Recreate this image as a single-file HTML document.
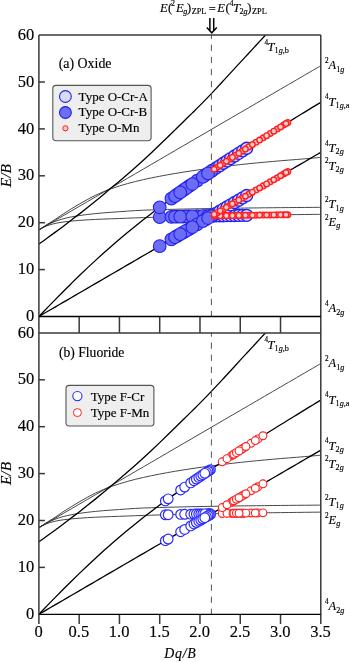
<!DOCTYPE html><html><head><meta charset="utf-8"><style>html,body{margin:0;padding:0;background:#fff;}svg{display:block;will-change:transform;}text{font-family:"Liberation Serif",serif;fill:#000;stroke:#000;stroke-width:0.15px;}</style></head><body>
<svg width="350" height="662" viewBox="0 0 350 662">
<rect width="350" height="662" fill="#fff"/>
<clipPath id="cp0"><rect x="38.90" y="35.10" width="281.89" height="281.40"/></clipPath>
<clipPath id="cp1"><rect x="38.90" y="332.90" width="281.89" height="281.40"/></clipPath>
<g clip-path="url(#cp0)">
<path d="M38.90 229.88 C40.24 229.19 44.27 226.86 46.95 225.79 C49.64 224.72 52.32 224.09 55.01 223.46 C57.69 222.84 60.38 222.43 63.06 222.04 C65.75 221.65 68.43 221.37 71.12 221.10 C73.80 220.83 76.49 220.63 79.17 220.42 C81.85 220.22 84.54 220.03 87.22 219.87 C89.91 219.70 92.59 219.56 95.28 219.43 C97.96 219.30 100.65 219.18 103.33 219.07 C106.02 218.96 108.70 218.86 111.39 218.77 C114.07 218.68 116.76 218.61 119.44 218.51 C122.12 218.42 124.81 218.29 127.49 218.19 C130.18 218.08 132.86 217.99 135.55 217.89 C138.23 217.80 140.92 217.71 143.60 217.62 C146.29 217.53 148.97 217.45 151.66 217.37 C154.34 217.29 157.03 217.21 159.71 217.13 C162.39 217.06 165.08 216.99 167.76 216.91 C170.45 216.84 173.13 216.78 175.82 216.71 C178.50 216.64 181.19 216.58 183.87 216.52 C186.56 216.45 189.24 216.39 191.93 216.33 C194.61 216.27 197.30 216.22 199.98 216.16 C202.66 216.10 205.35 216.05 208.03 216.00 C210.72 215.94 213.40 215.89 216.09 215.84 C218.77 215.79 221.46 215.74 224.14 215.69 C226.83 215.64 229.51 215.60 232.20 215.55 C234.88 215.50 237.57 215.46 240.25 215.41 C242.93 215.37 245.62 215.33 248.30 215.28 C250.99 215.24 253.67 215.20 256.36 215.16 C259.04 215.12 261.73 215.08 264.41 215.04 C267.10 215.00 269.78 214.96 272.47 214.93 C275.15 214.89 277.84 214.85 280.52 214.82 C283.20 214.78 285.89 214.74 288.57 214.71 C291.26 214.68 293.94 214.64 296.63 214.61 C299.31 214.57 302.00 214.54 304.68 214.51 C307.37 214.48 310.05 214.45 312.74 214.41 C315.42 214.38 319.45 214.34 320.79 214.32" stroke="#282828" stroke-width="0.85" fill="none"/>
<path d="M38.90 229.88 C40.24 229.08 44.27 226.48 46.95 225.07 C49.64 223.67 52.32 222.48 55.01 221.44 C57.69 220.40 60.38 219.56 63.06 218.82 C65.75 218.07 68.43 217.52 71.12 216.98 C73.80 216.44 76.49 216.00 79.17 215.59 C81.85 215.17 84.54 214.83 87.22 214.50 C89.91 214.17 92.59 213.89 95.28 213.62 C97.96 213.35 100.65 213.11 103.33 212.88 C106.02 212.66 108.70 212.45 111.39 212.26 C114.07 212.06 116.76 211.90 119.44 211.71 C122.12 211.53 124.81 211.32 127.49 211.13 C130.18 210.95 132.86 210.76 135.55 210.60 C138.23 210.44 140.92 210.30 143.60 210.19 C146.29 210.08 148.97 210.00 151.66 209.92 C154.34 209.83 157.03 209.75 159.71 209.67 C162.39 209.59 165.08 209.52 167.76 209.45 C170.45 209.38 173.13 209.31 175.82 209.25 C178.50 209.18 181.19 209.12 183.87 209.06 C186.56 209.00 189.24 208.95 191.93 208.89 C194.61 208.84 197.30 208.79 199.98 208.74 C202.66 208.69 205.35 208.64 208.03 208.59 C210.72 208.55 213.40 208.50 216.09 208.46 C218.77 208.42 221.46 208.38 224.14 208.34 C226.83 208.30 229.51 208.26 232.20 208.22 C234.88 208.18 237.57 208.15 240.25 208.11 C242.93 208.08 245.62 208.04 248.30 208.01 C250.99 207.98 253.67 207.95 256.36 207.91 C259.04 207.88 261.73 207.85 264.41 207.82 C267.10 207.80 269.78 207.77 272.47 207.74 C275.15 207.71 277.84 207.69 280.52 207.66 C283.20 207.63 285.89 207.61 288.57 207.58 C291.26 207.56 293.94 207.54 296.63 207.51 C299.31 207.49 302.00 207.47 304.68 207.45 C307.37 207.42 310.05 207.40 312.74 207.38 C315.42 207.36 319.45 207.33 320.79 207.32" stroke="#282828" stroke-width="0.85" fill="none"/>
<path d="M38.90 229.88 C40.24 228.99 44.27 226.26 46.95 224.54 C49.64 222.81 52.32 221.27 55.01 219.53 C57.69 217.79 60.38 215.85 63.06 214.09 C65.75 212.33 68.43 210.62 71.12 208.97 C73.80 207.31 76.49 205.75 79.17 204.17 C81.85 202.60 84.54 201.01 87.22 199.54 C89.91 198.08 92.59 196.68 95.28 195.39 C97.96 194.10 100.65 192.90 103.33 191.78 C106.02 190.67 108.70 189.64 111.39 188.67 C114.07 187.70 116.76 186.81 119.44 185.97 C122.12 185.12 124.81 184.34 127.49 183.60 C130.18 182.85 132.86 182.15 135.55 181.48 C138.23 180.81 140.92 180.18 143.60 179.58 C146.29 178.97 148.97 178.41 151.66 177.85 C154.34 177.30 157.03 176.77 159.71 176.25 C162.39 175.74 165.08 175.24 167.76 174.76 C170.45 174.28 173.13 173.82 175.82 173.36 C178.50 172.91 181.19 172.48 183.87 172.05 C186.56 171.62 189.24 171.21 191.93 170.81 C194.61 170.41 197.30 170.02 199.98 169.64 C202.66 169.26 205.35 168.89 208.03 168.53 C210.72 168.17 213.40 167.82 216.09 167.47 C218.77 167.13 221.46 166.80 224.14 166.47 C226.83 166.15 229.51 165.83 232.20 165.52 C234.88 165.21 237.57 164.91 240.25 164.62 C242.93 164.32 245.62 164.03 248.30 163.76 C250.99 163.48 253.67 163.22 256.36 162.96 C259.04 162.70 261.73 162.45 264.41 162.21 C267.10 161.96 269.78 161.72 272.47 161.48 C275.15 161.25 277.84 161.02 280.52 160.79 C283.20 160.57 285.89 160.35 288.57 160.13 C291.26 159.92 293.94 159.72 296.63 159.50 C299.31 159.29 302.00 159.06 304.68 158.82 C307.37 158.59 310.05 158.35 312.74 158.12 C315.42 157.88 319.45 157.55 320.79 157.43" stroke="#282828" stroke-width="0.85" fill="none"/>
<path d="M38.90 229.88 C40.24 229.09 44.27 226.75 46.95 225.19 C49.64 223.62 52.32 222.06 55.01 220.50 C57.69 218.93 60.38 217.37 63.06 215.81 C65.75 214.24 68.43 212.68 71.12 211.12 C73.80 209.55 76.49 207.99 79.17 206.43 C81.85 204.86 84.54 203.30 87.22 201.74 C89.91 200.17 92.59 198.61 95.28 197.05 C97.96 195.48 100.65 193.92 103.33 192.36 C106.02 190.79 108.70 189.23 111.39 187.67 C114.07 186.10 116.76 184.54 119.44 182.98 C122.12 181.41 124.81 179.85 127.49 178.29 C130.18 176.72 132.86 175.16 135.55 173.60 C138.23 172.03 140.92 170.47 143.60 168.91 C146.29 167.34 148.97 165.78 151.66 164.22 C154.34 162.65 157.03 161.09 159.71 159.53 C162.39 157.96 165.08 156.40 167.76 154.84 C170.45 153.27 173.13 151.71 175.82 150.15 C178.50 148.58 181.19 147.02 183.87 145.46 C186.56 143.89 189.24 142.33 191.93 140.77 C194.61 139.20 197.30 137.64 199.98 136.08 C202.66 134.51 205.35 132.95 208.03 131.39 C210.72 129.82 213.40 128.26 216.09 126.70 C218.77 125.13 221.46 123.57 224.14 122.01 C226.83 120.44 229.51 118.88 232.20 117.32 C234.88 115.75 237.57 114.19 240.25 112.63 C242.93 111.06 245.62 109.50 248.30 107.94 C250.99 106.37 253.67 104.81 256.36 103.25 C259.04 101.68 261.73 100.12 264.41 98.56 C267.10 96.99 269.78 95.43 272.47 93.87 C275.15 92.30 277.84 90.74 280.52 89.18 C283.20 87.61 285.89 86.05 288.57 84.49 C291.26 82.92 293.94 81.36 296.63 79.80 C299.31 78.23 302.00 76.67 304.68 75.11 C307.37 73.54 310.05 71.98 312.74 70.42 C315.42 68.85 319.45 66.51 320.79 65.73" stroke="#282828" stroke-width="0.85" fill="none"/>
<path d="M38.90 316.50 C40.24 315.72 44.27 313.37 46.95 311.81 C49.64 310.25 52.32 308.68 55.01 307.12 C57.69 305.56 60.38 303.99 63.06 302.43 C65.75 300.87 68.43 299.30 71.12 297.74 C73.80 296.18 76.49 294.61 79.17 293.05 C81.85 291.49 84.54 289.92 87.22 288.36 C89.91 286.80 92.59 285.23 95.28 283.67 C97.96 282.11 100.65 280.54 103.33 278.98 C106.02 277.42 108.70 275.85 111.39 274.29 C114.07 272.73 116.76 271.16 119.44 269.60 C122.12 268.04 124.81 266.47 127.49 264.91 C130.18 263.35 132.86 261.78 135.55 260.22 C138.23 258.66 140.92 257.09 143.60 255.53 C146.29 253.97 148.97 252.40 151.66 250.84 C154.34 249.28 157.03 247.71 159.71 246.15 C162.39 244.59 165.08 243.02 167.76 241.46 C170.45 239.90 173.13 238.33 175.82 236.77 C178.50 235.21 181.19 233.64 183.87 232.08 C186.56 230.52 189.24 228.95 191.93 227.39 C194.61 225.83 197.30 224.26 199.98 222.70 C202.66 221.14 205.35 219.57 208.03 218.01 C210.72 216.45 213.40 214.88 216.09 213.32 C218.77 211.76 221.46 210.19 224.14 208.63 C226.83 207.07 229.51 205.50 232.20 203.94 C234.88 202.38 237.57 200.81 240.25 199.25 C242.93 197.69 245.62 196.12 248.30 194.56 C250.99 193.00 253.67 191.43 256.36 189.87 C259.04 188.31 261.73 186.74 264.41 185.18 C267.10 183.62 269.78 182.05 272.47 180.49 C275.15 178.93 277.84 177.36 280.52 175.80 C283.20 174.24 285.89 172.67 288.57 171.11 C291.26 169.55 293.94 167.98 296.63 166.42 C299.31 164.86 302.00 163.29 304.68 161.73 C307.37 160.17 310.05 158.60 312.74 157.04 C315.42 155.48 319.45 153.13 320.79 152.35" stroke="#000" stroke-width="1.3" fill="none"/>
<path d="M38.90 316.50 C40.24 315.10 44.27 310.89 46.95 308.11 C49.64 305.33 52.32 302.57 55.01 299.83 C57.69 297.09 60.38 294.38 63.06 291.68 C65.75 288.99 68.43 286.31 71.12 283.67 C73.80 281.03 76.49 278.40 79.17 275.81 C81.85 273.22 84.54 270.66 87.22 268.12 C89.91 265.59 92.59 263.08 95.28 260.61 C97.96 258.14 100.65 255.69 103.33 253.28 C106.02 250.87 108.70 248.49 111.39 246.15 C114.07 243.80 116.76 241.49 119.44 239.21 C122.12 236.93 124.81 234.69 127.49 232.47 C130.18 230.25 132.86 228.07 135.55 225.91 C138.23 223.76 140.92 221.63 143.60 219.53 C146.29 217.43 148.97 215.37 151.66 213.32 C154.34 211.27 157.03 209.26 159.71 207.26 C162.39 205.27 165.08 203.29 167.76 201.34 C170.45 199.39 173.13 197.46 175.82 195.55 C178.50 193.64 181.19 191.75 183.87 189.87 C186.56 187.99 189.24 186.14 191.93 184.29 C194.61 182.44 197.30 180.62 199.98 178.80 C202.66 176.98 205.35 175.18 208.03 173.39 C210.72 171.59 213.40 169.81 216.09 168.04 C218.77 166.27 221.46 164.51 224.14 162.76 C226.83 161.01 229.51 159.27 232.20 157.53 C234.88 155.80 237.57 154.07 240.25 152.35 C242.93 150.63 245.62 148.92 248.30 147.21 C250.99 145.50 253.67 143.80 256.36 142.11 C259.04 140.42 261.73 138.73 264.41 137.04 C267.10 135.36 269.78 133.68 272.47 132.00 C275.15 130.33 277.84 128.66 280.52 126.99 C283.20 125.33 285.89 123.66 288.57 122.01 C291.26 120.35 293.94 118.69 296.63 117.04 C299.31 115.39 302.00 113.74 304.68 112.09 C307.37 110.45 310.05 108.80 312.74 107.16 C315.42 105.52 319.45 103.07 320.79 102.25" stroke="#000" stroke-width="1.3" fill="none"/>
<path d="M38.90 244.04 C40.24 243.08 44.27 240.22 46.95 238.28 C49.64 236.34 52.32 234.38 55.01 232.40 C57.69 230.42 60.38 228.43 63.06 226.40 C65.75 224.38 68.43 222.31 71.12 220.26 C73.80 218.21 76.49 216.19 79.17 214.12 C81.85 212.04 84.54 209.94 87.22 207.81 C89.91 205.67 92.59 203.51 95.28 201.32 C97.96 199.12 100.65 196.89 103.33 194.64 C106.02 192.40 108.70 190.10 111.39 187.85 C114.07 185.61 116.76 183.45 119.44 181.19 C122.12 178.93 124.81 176.64 127.49 174.30 C130.18 171.97 132.86 169.60 135.55 167.20 C138.23 164.80 140.92 162.37 143.60 159.91 C146.29 157.45 148.97 154.95 151.66 152.43 C154.34 149.91 157.03 147.37 159.71 144.80 C162.39 142.23 165.08 139.64 167.76 137.03 C170.45 134.41 173.13 131.76 175.82 129.13 C178.50 126.49 181.19 123.86 183.87 121.23 C186.56 118.60 189.24 115.98 191.93 113.34 C194.61 110.69 197.30 108.06 199.98 105.36 C202.66 102.65 205.35 99.90 208.03 97.10 C210.72 94.31 213.40 91.46 216.09 88.59 C218.77 85.73 221.46 82.80 224.14 79.90 C226.83 76.99 229.51 74.07 232.20 71.15 C234.88 68.22 237.57 65.26 240.25 62.35 C242.93 59.44 245.62 56.58 248.30 53.69 C250.99 50.79 253.67 47.89 256.36 44.99 C259.04 42.08 261.73 39.17 264.41 36.26 C267.10 33.34 269.78 30.46 272.47 27.49 C275.15 24.52 277.84 21.46 280.52 18.43 C283.20 15.41 285.89 12.38 288.57 9.35 C291.26 6.32 293.94 3.29 296.63 0.25 C299.31 -2.79 302.00 -5.83 304.68 -8.88 C307.37 -11.92 310.05 -14.97 312.74 -18.02 C315.42 -21.07 319.45 -25.65 320.79 -27.17" stroke="#000" stroke-width="1.3" fill="none"/>
</g>
<g clip-path="url(#cp1)">
<path d="M38.90 527.68 C40.24 526.99 44.27 524.66 46.95 523.59 C49.64 522.52 52.32 521.89 55.01 521.26 C57.69 520.64 60.38 520.23 63.06 519.84 C65.75 519.45 68.43 519.17 71.12 518.90 C73.80 518.63 76.49 518.43 79.17 518.22 C81.85 518.02 84.54 517.83 87.22 517.67 C89.91 517.50 92.59 517.36 95.28 517.23 C97.96 517.10 100.65 516.98 103.33 516.87 C106.02 516.76 108.70 516.66 111.39 516.57 C114.07 516.48 116.76 516.41 119.44 516.31 C122.12 516.22 124.81 516.09 127.49 515.99 C130.18 515.88 132.86 515.79 135.55 515.69 C138.23 515.60 140.92 515.51 143.60 515.42 C146.29 515.33 148.97 515.25 151.66 515.17 C154.34 515.09 157.03 515.01 159.71 514.93 C162.39 514.86 165.08 514.79 167.76 514.71 C170.45 514.64 173.13 514.58 175.82 514.51 C178.50 514.44 181.19 514.38 183.87 514.32 C186.56 514.25 189.24 514.19 191.93 514.13 C194.61 514.07 197.30 514.02 199.98 513.96 C202.66 513.90 205.35 513.85 208.03 513.80 C210.72 513.74 213.40 513.69 216.09 513.64 C218.77 513.59 221.46 513.54 224.14 513.49 C226.83 513.44 229.51 513.40 232.20 513.35 C234.88 513.30 237.57 513.26 240.25 513.21 C242.93 513.17 245.62 513.13 248.30 513.08 C250.99 513.04 253.67 513.00 256.36 512.96 C259.04 512.92 261.73 512.88 264.41 512.84 C267.10 512.80 269.78 512.76 272.47 512.73 C275.15 512.69 277.84 512.65 280.52 512.62 C283.20 512.58 285.89 512.54 288.57 512.51 C291.26 512.48 293.94 512.44 296.63 512.41 C299.31 512.37 302.00 512.34 304.68 512.31 C307.37 512.28 310.05 512.25 312.74 512.21 C315.42 512.18 319.45 512.14 320.79 512.12" stroke="#282828" stroke-width="0.85" fill="none"/>
<path d="M38.90 527.68 C40.24 526.88 44.27 524.28 46.95 522.87 C49.64 521.47 52.32 520.28 55.01 519.24 C57.69 518.20 60.38 517.36 63.06 516.62 C65.75 515.87 68.43 515.32 71.12 514.78 C73.80 514.24 76.49 513.80 79.17 513.39 C81.85 512.97 84.54 512.63 87.22 512.30 C89.91 511.97 92.59 511.69 95.28 511.42 C97.96 511.15 100.65 510.91 103.33 510.68 C106.02 510.46 108.70 510.25 111.39 510.06 C114.07 509.86 116.76 509.70 119.44 509.51 C122.12 509.33 124.81 509.12 127.49 508.93 C130.18 508.75 132.86 508.56 135.55 508.40 C138.23 508.24 140.92 508.10 143.60 507.99 C146.29 507.88 148.97 507.80 151.66 507.72 C154.34 507.63 157.03 507.55 159.71 507.47 C162.39 507.39 165.08 507.32 167.76 507.25 C170.45 507.18 173.13 507.11 175.82 507.05 C178.50 506.98 181.19 506.92 183.87 506.86 C186.56 506.80 189.24 506.75 191.93 506.69 C194.61 506.64 197.30 506.59 199.98 506.54 C202.66 506.49 205.35 506.44 208.03 506.39 C210.72 506.35 213.40 506.30 216.09 506.26 C218.77 506.22 221.46 506.18 224.14 506.14 C226.83 506.10 229.51 506.06 232.20 506.02 C234.88 505.98 237.57 505.95 240.25 505.91 C242.93 505.88 245.62 505.84 248.30 505.81 C250.99 505.78 253.67 505.75 256.36 505.71 C259.04 505.68 261.73 505.65 264.41 505.62 C267.10 505.60 269.78 505.57 272.47 505.54 C275.15 505.51 277.84 505.49 280.52 505.46 C283.20 505.43 285.89 505.41 288.57 505.38 C291.26 505.36 293.94 505.34 296.63 505.31 C299.31 505.29 302.00 505.27 304.68 505.25 C307.37 505.22 310.05 505.20 312.74 505.18 C315.42 505.16 319.45 505.13 320.79 505.12" stroke="#282828" stroke-width="0.85" fill="none"/>
<path d="M38.90 527.68 C40.24 526.79 44.27 524.06 46.95 522.34 C49.64 520.61 52.32 519.07 55.01 517.33 C57.69 515.59 60.38 513.65 63.06 511.89 C65.75 510.13 68.43 508.42 71.12 506.77 C73.80 505.11 76.49 503.55 79.17 501.97 C81.85 500.40 84.54 498.81 87.22 497.34 C89.91 495.88 92.59 494.48 95.28 493.19 C97.96 491.90 100.65 490.70 103.33 489.58 C106.02 488.47 108.70 487.44 111.39 486.47 C114.07 485.50 116.76 484.61 119.44 483.77 C122.12 482.92 124.81 482.14 127.49 481.40 C130.18 480.65 132.86 479.95 135.55 479.28 C138.23 478.61 140.92 477.98 143.60 477.38 C146.29 476.77 148.97 476.21 151.66 475.65 C154.34 475.10 157.03 474.57 159.71 474.05 C162.39 473.54 165.08 473.04 167.76 472.56 C170.45 472.08 173.13 471.62 175.82 471.16 C178.50 470.71 181.19 470.28 183.87 469.85 C186.56 469.42 189.24 469.01 191.93 468.61 C194.61 468.21 197.30 467.82 199.98 467.44 C202.66 467.06 205.35 466.69 208.03 466.33 C210.72 465.97 213.40 465.62 216.09 465.27 C218.77 464.93 221.46 464.60 224.14 464.27 C226.83 463.95 229.51 463.63 232.20 463.32 C234.88 463.01 237.57 462.71 240.25 462.42 C242.93 462.12 245.62 461.83 248.30 461.56 C250.99 461.28 253.67 461.02 256.36 460.76 C259.04 460.50 261.73 460.25 264.41 460.01 C267.10 459.76 269.78 459.52 272.47 459.28 C275.15 459.05 277.84 458.82 280.52 458.59 C283.20 458.37 285.89 458.15 288.57 457.93 C291.26 457.72 293.94 457.52 296.63 457.30 C299.31 457.09 302.00 456.86 304.68 456.62 C307.37 456.39 310.05 456.15 312.74 455.92 C315.42 455.68 319.45 455.35 320.79 455.23" stroke="#282828" stroke-width="0.85" fill="none"/>
<path d="M38.90 527.68 C40.24 526.89 44.27 524.55 46.95 522.99 C49.64 521.42 52.32 519.86 55.01 518.30 C57.69 516.73 60.38 515.17 63.06 513.61 C65.75 512.04 68.43 510.48 71.12 508.92 C73.80 507.35 76.49 505.79 79.17 504.23 C81.85 502.66 84.54 501.10 87.22 499.54 C89.91 497.97 92.59 496.41 95.28 494.85 C97.96 493.28 100.65 491.72 103.33 490.16 C106.02 488.59 108.70 487.03 111.39 485.47 C114.07 483.90 116.76 482.34 119.44 480.78 C122.12 479.21 124.81 477.65 127.49 476.09 C130.18 474.52 132.86 472.96 135.55 471.40 C138.23 469.83 140.92 468.27 143.60 466.71 C146.29 465.14 148.97 463.58 151.66 462.02 C154.34 460.45 157.03 458.89 159.71 457.33 C162.39 455.76 165.08 454.20 167.76 452.64 C170.45 451.07 173.13 449.51 175.82 447.95 C178.50 446.38 181.19 444.82 183.87 443.26 C186.56 441.69 189.24 440.13 191.93 438.57 C194.61 437.00 197.30 435.44 199.98 433.88 C202.66 432.31 205.35 430.75 208.03 429.19 C210.72 427.62 213.40 426.06 216.09 424.50 C218.77 422.93 221.46 421.37 224.14 419.81 C226.83 418.24 229.51 416.68 232.20 415.12 C234.88 413.55 237.57 411.99 240.25 410.43 C242.93 408.86 245.62 407.30 248.30 405.74 C250.99 404.17 253.67 402.61 256.36 401.05 C259.04 399.48 261.73 397.92 264.41 396.36 C267.10 394.79 269.78 393.23 272.47 391.67 C275.15 390.10 277.84 388.54 280.52 386.98 C283.20 385.41 285.89 383.85 288.57 382.29 C291.26 380.72 293.94 379.16 296.63 377.60 C299.31 376.03 302.00 374.47 304.68 372.91 C307.37 371.34 310.05 369.78 312.74 368.22 C315.42 366.65 319.45 364.31 320.79 363.53" stroke="#282828" stroke-width="0.85" fill="none"/>
<path d="M38.90 614.30 C40.24 613.52 44.27 611.17 46.95 609.61 C49.64 608.05 52.32 606.48 55.01 604.92 C57.69 603.36 60.38 601.79 63.06 600.23 C65.75 598.67 68.43 597.10 71.12 595.54 C73.80 593.98 76.49 592.41 79.17 590.85 C81.85 589.29 84.54 587.72 87.22 586.16 C89.91 584.60 92.59 583.03 95.28 581.47 C97.96 579.91 100.65 578.34 103.33 576.78 C106.02 575.22 108.70 573.65 111.39 572.09 C114.07 570.53 116.76 568.96 119.44 567.40 C122.12 565.84 124.81 564.27 127.49 562.71 C130.18 561.15 132.86 559.58 135.55 558.02 C138.23 556.46 140.92 554.89 143.60 553.33 C146.29 551.77 148.97 550.20 151.66 548.64 C154.34 547.08 157.03 545.51 159.71 543.95 C162.39 542.39 165.08 540.82 167.76 539.26 C170.45 537.70 173.13 536.13 175.82 534.57 C178.50 533.01 181.19 531.44 183.87 529.88 C186.56 528.32 189.24 526.75 191.93 525.19 C194.61 523.63 197.30 522.06 199.98 520.50 C202.66 518.94 205.35 517.37 208.03 515.81 C210.72 514.25 213.40 512.68 216.09 511.12 C218.77 509.56 221.46 507.99 224.14 506.43 C226.83 504.87 229.51 503.30 232.20 501.74 C234.88 500.18 237.57 498.61 240.25 497.05 C242.93 495.49 245.62 493.92 248.30 492.36 C250.99 490.80 253.67 489.23 256.36 487.67 C259.04 486.11 261.73 484.54 264.41 482.98 C267.10 481.42 269.78 479.85 272.47 478.29 C275.15 476.73 277.84 475.16 280.52 473.60 C283.20 472.04 285.89 470.47 288.57 468.91 C291.26 467.35 293.94 465.78 296.63 464.22 C299.31 462.66 302.00 461.09 304.68 459.53 C307.37 457.97 310.05 456.40 312.74 454.84 C315.42 453.28 319.45 450.93 320.79 450.15" stroke="#000" stroke-width="1.3" fill="none"/>
<path d="M38.90 614.30 C40.24 612.90 44.27 608.69 46.95 605.91 C49.64 603.13 52.32 600.37 55.01 597.63 C57.69 594.89 60.38 592.18 63.06 589.48 C65.75 586.79 68.43 584.11 71.12 581.47 C73.80 578.83 76.49 576.20 79.17 573.61 C81.85 571.02 84.54 568.46 87.22 565.92 C89.91 563.39 92.59 560.88 95.28 558.41 C97.96 555.94 100.65 553.49 103.33 551.08 C106.02 548.67 108.70 546.29 111.39 543.95 C114.07 541.60 116.76 539.29 119.44 537.01 C122.12 534.73 124.81 532.49 127.49 530.27 C130.18 528.05 132.86 525.87 135.55 523.71 C138.23 521.56 140.92 519.43 143.60 517.33 C146.29 515.23 148.97 513.17 151.66 511.12 C154.34 509.07 157.03 507.06 159.71 505.06 C162.39 503.07 165.08 501.09 167.76 499.14 C170.45 497.19 173.13 495.26 175.82 493.35 C178.50 491.44 181.19 489.55 183.87 487.67 C186.56 485.79 189.24 483.94 191.93 482.09 C194.61 480.24 197.30 478.42 199.98 476.60 C202.66 474.78 205.35 472.98 208.03 471.19 C210.72 469.39 213.40 467.61 216.09 465.84 C218.77 464.07 221.46 462.31 224.14 460.56 C226.83 458.81 229.51 457.07 232.20 455.33 C234.88 453.60 237.57 451.87 240.25 450.15 C242.93 448.43 245.62 446.72 248.30 445.01 C250.99 443.30 253.67 441.60 256.36 439.91 C259.04 438.22 261.73 436.53 264.41 434.84 C267.10 433.16 269.78 431.48 272.47 429.80 C275.15 428.13 277.84 426.46 280.52 424.79 C283.20 423.13 285.89 421.46 288.57 419.81 C291.26 418.15 293.94 416.49 296.63 414.84 C299.31 413.19 302.00 411.54 304.68 409.89 C307.37 408.25 310.05 406.60 312.74 404.96 C315.42 403.32 319.45 400.87 320.79 400.05" stroke="#000" stroke-width="1.3" fill="none"/>
<path d="M38.90 541.84 C40.24 540.88 44.27 538.02 46.95 536.08 C49.64 534.14 52.32 532.18 55.01 530.20 C57.69 528.22 60.38 526.23 63.06 524.20 C65.75 522.18 68.43 520.11 71.12 518.06 C73.80 516.01 76.49 513.99 79.17 511.92 C81.85 509.84 84.54 507.74 87.22 505.61 C89.91 503.47 92.59 501.31 95.28 499.12 C97.96 496.92 100.65 494.69 103.33 492.44 C106.02 490.20 108.70 487.90 111.39 485.65 C114.07 483.41 116.76 481.25 119.44 478.99 C122.12 476.73 124.81 474.44 127.49 472.10 C130.18 469.77 132.86 467.40 135.55 465.00 C138.23 462.60 140.92 460.17 143.60 457.71 C146.29 455.25 148.97 452.75 151.66 450.23 C154.34 447.71 157.03 445.17 159.71 442.60 C162.39 440.03 165.08 437.44 167.76 434.83 C170.45 432.21 173.13 429.56 175.82 426.93 C178.50 424.29 181.19 421.66 183.87 419.03 C186.56 416.40 189.24 413.78 191.93 411.14 C194.61 408.49 197.30 405.86 199.98 403.16 C202.66 400.45 205.35 397.70 208.03 394.90 C210.72 392.11 213.40 389.26 216.09 386.39 C218.77 383.53 221.46 380.60 224.14 377.70 C226.83 374.79 229.51 371.87 232.20 368.95 C234.88 366.02 237.57 363.06 240.25 360.15 C242.93 357.24 245.62 354.38 248.30 351.49 C250.99 348.59 253.67 345.69 256.36 342.79 C259.04 339.88 261.73 336.97 264.41 334.06 C267.10 331.14 269.78 328.26 272.47 325.29 C275.15 322.32 277.84 319.26 280.52 316.23 C283.20 313.21 285.89 310.18 288.57 307.15 C291.26 304.12 293.94 301.09 296.63 298.05 C299.31 295.01 302.00 291.97 304.68 288.92 C307.37 285.88 310.05 282.83 312.74 279.78 C315.42 276.73 319.45 272.15 320.79 270.63" stroke="#000" stroke-width="1.3" fill="none"/>
</g>
<line x1="211.40" y1="35" x2="211.40" y2="316.5" stroke="#555" stroke-width="1" stroke-dasharray="6.3 5.8" stroke-dashoffset="2.4"/>
<line x1="211.40" y1="332.8" x2="211.40" y2="614.3" stroke="#555" stroke-width="1" stroke-dasharray="6.3 5.8" stroke-dashoffset="2.4"/>
<g fill="#d4d4fa" stroke="#2222f2" stroke-width="1.35"><circle cx="212.46" cy="215.91" r="6.00"/><circle cx="216.09" cy="215.84" r="6.00"/><circle cx="219.71" cy="215.77" r="6.00"/><circle cx="223.34" cy="215.71" r="6.00"/><circle cx="226.96" cy="215.64" r="6.00"/><circle cx="230.59" cy="215.58" r="6.00"/><circle cx="234.61" cy="215.51" r="6.00"/><circle cx="238.64" cy="215.44" r="6.00"/><circle cx="242.67" cy="215.38" r="6.00"/><circle cx="246.69" cy="215.31" r="6.00"/><circle cx="212.46" cy="215.43" r="6.00"/><circle cx="216.09" cy="213.32" r="6.00"/><circle cx="219.71" cy="211.21" r="6.00"/><circle cx="223.34" cy="209.10" r="6.00"/><circle cx="226.96" cy="206.99" r="6.00"/><circle cx="230.59" cy="204.88" r="6.00"/><circle cx="234.61" cy="202.53" r="6.00"/><circle cx="238.64" cy="200.19" r="6.00"/><circle cx="242.67" cy="197.84" r="6.00"/><circle cx="246.69" cy="195.50" r="6.00"/><circle cx="212.46" cy="170.44" r="6.00"/><circle cx="216.09" cy="168.04" r="6.00"/><circle cx="219.71" cy="165.66" r="6.00"/><circle cx="223.34" cy="163.29" r="6.00"/><circle cx="226.96" cy="160.92" r="6.00"/><circle cx="230.59" cy="158.57" r="6.00"/><circle cx="234.61" cy="155.97" r="6.00"/><circle cx="238.64" cy="153.38" r="6.00"/><circle cx="242.67" cy="150.80" r="6.00"/><circle cx="246.69" cy="148.24" r="6.00"/></g>
<g fill="#6c6cf4" stroke="#2020f4" stroke-width="1.05"><circle cx="159.71" cy="217.13" r="6.35"/><circle cx="171.39" cy="216.82" r="6.35"/><circle cx="177.43" cy="216.67" r="6.35"/><circle cx="183.07" cy="216.54" r="6.35"/><circle cx="189.11" cy="216.40" r="6.35"/><circle cx="205.62" cy="216.05" r="6.35"/><circle cx="175.01" cy="216.73" r="6.35"/><circle cx="185.89" cy="216.47" r="6.35"/><circle cx="197.16" cy="216.22" r="6.35"/><circle cx="202.80" cy="216.10" r="6.35"/><circle cx="211.26" cy="215.93" r="6.35"/><circle cx="180.25" cy="216.60" r="6.35"/><circle cx="192.33" cy="216.32" r="6.35"/><circle cx="208.03" cy="216.00" r="6.35"/><circle cx="159.71" cy="246.15" r="6.35"/><circle cx="171.39" cy="239.35" r="6.35"/><circle cx="177.43" cy="235.83" r="6.35"/><circle cx="183.07" cy="232.55" r="6.35"/><circle cx="189.11" cy="229.03" r="6.35"/><circle cx="205.62" cy="219.42" r="6.35"/><circle cx="175.01" cy="237.24" r="6.35"/><circle cx="185.89" cy="230.91" r="6.35"/><circle cx="197.16" cy="224.34" r="6.35"/><circle cx="202.80" cy="221.06" r="6.35"/><circle cx="211.26" cy="216.13" r="6.35"/><circle cx="180.25" cy="234.19" r="6.35"/><circle cx="192.33" cy="227.16" r="6.35"/><circle cx="208.03" cy="218.01" r="6.35"/><circle cx="159.71" cy="207.26" r="6.35"/><circle cx="171.39" cy="198.72" r="6.35"/><circle cx="177.43" cy="194.41" r="6.35"/><circle cx="183.07" cy="190.43" r="6.35"/><circle cx="189.11" cy="186.23" r="6.35"/><circle cx="205.62" cy="175.00" r="6.35"/><circle cx="175.01" cy="196.12" r="6.35"/><circle cx="185.89" cy="188.47" r="6.35"/><circle cx="197.16" cy="180.71" r="6.35"/><circle cx="202.80" cy="176.90" r="6.35"/><circle cx="211.26" cy="171.24" r="6.35"/><circle cx="180.25" cy="192.41" r="6.35"/><circle cx="192.33" cy="184.01" r="6.35"/><circle cx="208.03" cy="173.39" r="6.35"/></g>
<g fill="#ffd0d0" stroke="#ff2020" stroke-width="1.45"><circle cx="217.20" cy="215.82" r="2.80"/><circle cx="223.20" cy="215.71" r="2.80"/><circle cx="229.40" cy="215.60" r="2.80"/><circle cx="235.60" cy="215.49" r="2.80"/><circle cx="242.00" cy="215.39" r="2.80"/><circle cx="248.80" cy="215.28" r="2.80"/><circle cx="256.00" cy="215.17" r="2.80"/><circle cx="263.20" cy="215.06" r="2.80"/><circle cx="270.20" cy="214.96" r="2.80"/><circle cx="277.20" cy="214.86" r="2.80"/><circle cx="283.60" cy="214.77" r="2.80"/><circle cx="287.80" cy="214.72" r="2.80"/><circle cx="214.20" cy="215.88" r="2.80"/><circle cx="220.20" cy="215.76" r="2.80"/><circle cx="226.40" cy="215.65" r="2.80"/><circle cx="232.40" cy="215.55" r="2.80"/><circle cx="238.80" cy="215.44" r="2.80"/><circle cx="245.40" cy="215.33" r="2.80"/><circle cx="252.40" cy="215.22" r="2.80"/><circle cx="259.60" cy="215.11" r="2.80"/><circle cx="266.60" cy="215.01" r="2.80"/><circle cx="273.80" cy="214.91" r="2.80"/><circle cx="280.60" cy="214.81" r="2.80"/><circle cx="286.00" cy="214.74" r="2.80"/><circle cx="217.20" cy="212.67" r="2.80"/><circle cx="223.20" cy="209.18" r="2.80"/><circle cx="229.40" cy="205.57" r="2.80"/><circle cx="235.60" cy="201.96" r="2.80"/><circle cx="242.00" cy="198.23" r="2.80"/><circle cx="248.80" cy="194.27" r="2.80"/><circle cx="256.00" cy="190.08" r="2.80"/><circle cx="263.20" cy="185.89" r="2.80"/><circle cx="270.20" cy="181.81" r="2.80"/><circle cx="277.20" cy="177.73" r="2.80"/><circle cx="283.60" cy="174.01" r="2.80"/><circle cx="287.80" cy="171.56" r="2.80"/><circle cx="214.20" cy="214.42" r="2.80"/><circle cx="220.20" cy="210.93" r="2.80"/><circle cx="226.40" cy="207.32" r="2.80"/><circle cx="232.40" cy="203.82" r="2.80"/><circle cx="238.80" cy="200.09" r="2.80"/><circle cx="245.40" cy="196.25" r="2.80"/><circle cx="252.40" cy="192.17" r="2.80"/><circle cx="259.60" cy="187.98" r="2.80"/><circle cx="266.60" cy="183.91" r="2.80"/><circle cx="273.80" cy="179.71" r="2.80"/><circle cx="280.60" cy="175.75" r="2.80"/><circle cx="286.00" cy="172.61" r="2.80"/><circle cx="217.20" cy="167.31" r="2.80"/><circle cx="223.20" cy="163.37" r="2.80"/><circle cx="229.40" cy="159.34" r="2.80"/><circle cx="235.60" cy="155.34" r="2.80"/><circle cx="242.00" cy="151.23" r="2.80"/><circle cx="248.80" cy="146.90" r="2.80"/><circle cx="256.00" cy="142.34" r="2.80"/><circle cx="263.20" cy="137.80" r="2.80"/><circle cx="270.20" cy="133.42" r="2.80"/><circle cx="277.20" cy="129.06" r="2.80"/><circle cx="283.60" cy="125.08" r="2.80"/><circle cx="287.80" cy="122.48" r="2.80"/><circle cx="214.20" cy="169.29" r="2.80"/><circle cx="220.20" cy="165.34" r="2.80"/><circle cx="226.40" cy="161.29" r="2.80"/><circle cx="232.40" cy="157.40" r="2.80"/><circle cx="238.80" cy="153.28" r="2.80"/><circle cx="245.40" cy="149.06" r="2.80"/><circle cx="252.40" cy="144.61" r="2.80"/><circle cx="259.60" cy="140.07" r="2.80"/><circle cx="266.60" cy="135.67" r="2.80"/><circle cx="273.80" cy="131.17" r="2.80"/><circle cx="280.60" cy="126.94" r="2.80"/><circle cx="286.00" cy="123.60" r="2.80"/></g>
<g fill="#fff" stroke="#2a2aff" stroke-width="1.20"><circle cx="165.35" cy="514.78" r="4.85"/><circle cx="168.17" cy="514.70" r="4.85"/><circle cx="180.65" cy="514.39" r="4.85"/><circle cx="184.68" cy="514.30" r="4.85"/><circle cx="190.72" cy="514.16" r="4.85"/><circle cx="193.94" cy="514.09" r="4.85"/><circle cx="210.45" cy="513.75" r="4.85"/><circle cx="196.36" cy="514.04" r="4.85"/><circle cx="209.24" cy="513.77" r="4.85"/><circle cx="198.77" cy="513.99" r="4.85"/><circle cx="208.03" cy="513.80" r="4.85"/><circle cx="200.79" cy="513.94" r="4.85"/><circle cx="206.42" cy="513.83" r="4.85"/><circle cx="202.80" cy="513.90" r="4.85"/><circle cx="204.81" cy="513.86" r="4.85"/><circle cx="165.35" cy="540.67" r="4.85"/><circle cx="168.17" cy="539.03" r="4.85"/><circle cx="180.65" cy="531.76" r="4.85"/><circle cx="184.68" cy="529.41" r="4.85"/><circle cx="190.72" cy="525.89" r="4.85"/><circle cx="193.94" cy="524.02" r="4.85"/><circle cx="210.45" cy="514.40" r="4.85"/><circle cx="196.36" cy="522.61" r="4.85"/><circle cx="209.24" cy="515.11" r="4.85"/><circle cx="198.77" cy="521.20" r="4.85"/><circle cx="208.03" cy="515.81" r="4.85"/><circle cx="200.79" cy="520.03" r="4.85"/><circle cx="206.42" cy="516.75" r="4.85"/><circle cx="202.80" cy="518.86" r="4.85"/><circle cx="204.81" cy="517.69" r="4.85"/><circle cx="165.35" cy="500.90" r="4.85"/><circle cx="168.17" cy="498.85" r="4.85"/><circle cx="180.65" cy="489.93" r="4.85"/><circle cx="184.68" cy="487.11" r="4.85"/><circle cx="190.72" cy="482.92" r="4.85"/><circle cx="193.94" cy="480.71" r="4.85"/><circle cx="210.45" cy="469.58" r="4.85"/><circle cx="196.36" cy="479.06" r="4.85"/><circle cx="209.24" cy="470.38" r="4.85"/><circle cx="198.77" cy="477.42" r="4.85"/><circle cx="208.03" cy="471.19" r="4.85"/><circle cx="200.79" cy="476.05" r="4.85"/><circle cx="206.42" cy="472.26" r="4.85"/><circle cx="202.80" cy="474.70" r="4.85"/><circle cx="204.81" cy="473.34" r="4.85"/></g>
<g fill="#fff" stroke="#ff2424" stroke-width="1.15"><circle cx="222.21" cy="513.53" r="3.90"/><circle cx="231.31" cy="513.37" r="3.90"/><circle cx="235.42" cy="513.30" r="3.90"/><circle cx="239.93" cy="513.22" r="3.90"/><circle cx="244.12" cy="513.15" r="3.90"/><circle cx="250.96" cy="513.04" r="3.90"/><circle cx="257.89" cy="512.94" r="3.90"/><circle cx="227.04" cy="513.44" r="3.90"/><circle cx="233.00" cy="513.34" r="3.90"/><circle cx="238.08" cy="513.25" r="3.90"/><circle cx="242.67" cy="513.18" r="3.90"/><circle cx="255.31" cy="512.98" r="3.90"/><circle cx="233.89" cy="513.32" r="3.90"/><circle cx="236.38" cy="513.28" r="3.90"/><circle cx="241.62" cy="513.19" r="3.90"/><circle cx="245.89" cy="513.12" r="3.90"/><circle cx="262.96" cy="512.86" r="3.90"/><circle cx="239.04" cy="513.23" r="3.90"/><circle cx="222.21" cy="507.56" r="3.90"/><circle cx="231.31" cy="502.26" r="3.90"/><circle cx="235.42" cy="499.86" r="3.90"/><circle cx="239.93" cy="497.24" r="3.90"/><circle cx="244.12" cy="494.80" r="3.90"/><circle cx="250.96" cy="490.81" r="3.90"/><circle cx="257.89" cy="486.78" r="3.90"/><circle cx="227.04" cy="504.74" r="3.90"/><circle cx="233.00" cy="501.27" r="3.90"/><circle cx="238.08" cy="498.32" r="3.90"/><circle cx="242.67" cy="495.64" r="3.90"/><circle cx="255.31" cy="488.28" r="3.90"/><circle cx="233.89" cy="500.76" r="3.90"/><circle cx="236.38" cy="499.30" r="3.90"/><circle cx="241.62" cy="496.25" r="3.90"/><circle cx="245.89" cy="493.77" r="3.90"/><circle cx="262.96" cy="483.82" r="3.90"/><circle cx="239.04" cy="497.75" r="3.90"/><circle cx="222.21" cy="461.82" r="3.90"/><circle cx="231.31" cy="455.90" r="3.90"/><circle cx="235.42" cy="453.25" r="3.90"/><circle cx="239.93" cy="450.36" r="3.90"/><circle cx="244.12" cy="447.68" r="3.90"/><circle cx="250.96" cy="443.32" r="3.90"/><circle cx="257.89" cy="438.94" r="3.90"/><circle cx="227.04" cy="458.67" r="3.90"/><circle cx="233.00" cy="454.81" r="3.90"/><circle cx="238.08" cy="451.54" r="3.90"/><circle cx="242.67" cy="448.60" r="3.90"/><circle cx="255.31" cy="440.57" r="3.90"/><circle cx="233.89" cy="454.24" r="3.90"/><circle cx="236.38" cy="452.63" r="3.90"/><circle cx="241.62" cy="449.27" r="3.90"/><circle cx="245.89" cy="446.55" r="3.90"/><circle cx="262.96" cy="435.75" r="3.90"/><circle cx="239.04" cy="450.92" r="3.90"/></g>
<g stroke="#383838" stroke-width="1.50" fill="none">
<line x1="38.90" y1="35.0" x2="38.90" y2="624"/>
<line x1="320.79" y1="35.0" x2="320.79" y2="624"/>
<line x1="38.90" y1="35.0" x2="320.79" y2="35.0"/>
<line x1="38.90" y1="332.90" x2="320.79" y2="332.90"/>
<line x1="79.17" y1="316.5" x2="79.17" y2="332.90"/>
<line x1="79.17" y1="614.30" x2="79.17" y2="624"/>
<line x1="119.44" y1="316.5" x2="119.44" y2="332.90"/>
<line x1="119.44" y1="614.30" x2="119.44" y2="624"/>
<line x1="159.71" y1="316.5" x2="159.71" y2="332.90"/>
<line x1="159.71" y1="614.30" x2="159.71" y2="624"/>
<line x1="199.98" y1="316.5" x2="199.98" y2="332.90"/>
<line x1="199.98" y1="614.30" x2="199.98" y2="624"/>
<line x1="240.25" y1="316.5" x2="240.25" y2="332.90"/>
<line x1="240.25" y1="614.30" x2="240.25" y2="624"/>
<line x1="280.52" y1="316.5" x2="280.52" y2="332.90"/>
<line x1="280.52" y1="614.30" x2="280.52" y2="624"/>
<line x1="38.90" y1="269.60" x2="44.90" y2="269.60"/>
<line x1="38.90" y1="222.70" x2="44.90" y2="222.70"/>
<line x1="38.90" y1="175.80" x2="44.90" y2="175.80"/>
<line x1="38.90" y1="128.90" x2="44.90" y2="128.90"/>
<line x1="38.90" y1="82.00" x2="44.90" y2="82.00"/>
<line x1="38.90" y1="567.40" x2="44.90" y2="567.40"/>
<line x1="38.90" y1="520.50" x2="44.90" y2="520.50"/>
<line x1="38.90" y1="473.60" x2="44.90" y2="473.60"/>
<line x1="38.90" y1="426.70" x2="44.90" y2="426.70"/>
<line x1="38.90" y1="379.80" x2="44.90" y2="379.80"/>
</g>
<line x1="38.90" y1="316.50" x2="320.79" y2="316.50" stroke="#000" stroke-width="1.3"/>
<line x1="38.90" y1="614.30" x2="320.79" y2="614.30" stroke="#000" stroke-width="1.3"/>
<text x="34.3" y="321.10" font-size="16.5" text-anchor="end">0</text>
<text x="34.3" y="274.20" font-size="16.5" text-anchor="end">10</text>
<text x="34.3" y="227.30" font-size="16.5" text-anchor="end">20</text>
<text x="34.3" y="180.40" font-size="16.5" text-anchor="end">30</text>
<text x="34.3" y="133.50" font-size="16.5" text-anchor="end">40</text>
<text x="34.3" y="86.60" font-size="16.5" text-anchor="end">50</text>
<text x="34.3" y="39.70" font-size="16.5" text-anchor="end">60</text>
<text x="34.3" y="618.90" font-size="16.5" text-anchor="end">0</text>
<text x="34.3" y="572.00" font-size="16.5" text-anchor="end">10</text>
<text x="34.3" y="525.10" font-size="16.5" text-anchor="end">20</text>
<text x="34.3" y="478.20" font-size="16.5" text-anchor="end">30</text>
<text x="34.3" y="431.30" font-size="16.5" text-anchor="end">40</text>
<text x="34.3" y="384.40" font-size="16.5" text-anchor="end">50</text>
<text x="34.3" y="337.50" font-size="16.5" text-anchor="end">60</text>
<text x="38.60" y="637.2" font-size="16.5" text-anchor="middle">0</text>
<text x="78.87" y="637.2" font-size="16.5" text-anchor="middle">0.5</text>
<text x="119.14" y="637.2" font-size="16.5" text-anchor="middle">1.0</text>
<text x="159.41" y="637.2" font-size="16.5" text-anchor="middle">1.5</text>
<text x="199.68" y="637.2" font-size="16.5" text-anchor="middle">2.0</text>
<text x="239.95" y="637.2" font-size="16.5" text-anchor="middle">2.5</text>
<text x="280.22" y="637.2" font-size="16.5" text-anchor="middle">3.0</text>
<text x="320.49" y="637.2" font-size="16.5" text-anchor="middle">3.5</text>
<text x="180.4" y="658.0" font-size="13.8" font-style="italic" text-anchor="middle" letter-spacing="0.75">Dq/B</text>
<text transform="translate(11.1 175.70) rotate(-90)" font-size="15.4" font-style="italic" text-anchor="middle">E/B</text>
<text transform="translate(11.1 473.50) rotate(-90)" font-size="15.4" font-style="italic" text-anchor="middle">E/B</text>
<text x="58.7" y="67.9" font-size="13.9">(a) Oxide</text>
<text x="59.0" y="357.2" font-size="13.6">(b) Fluoride</text>
<rect x="52.8" y="85.4" width="98.3" height="55.3" rx="3.2" fill="#eeeeee" stroke="#555" stroke-width="1.1"/>
<circle cx="65.4" cy="96.5" r="5.9" fill="#dadafa" stroke="#2626e0" stroke-width="1.1"/>
<circle cx="65.4" cy="112.5" r="5.9" fill="#6e6ef7" stroke="#1c1ce8" stroke-width="1.1"/>
<circle cx="65.4" cy="128.3" r="2.6" fill="#ffc4c4" stroke="#ff1a1a" stroke-width="1"/>
<text x="78.6" y="100.50" font-size="13">Type O-Cr-A</text>
<text x="78.6" y="116.45" font-size="13">Type O-Cr-B</text>
<text x="78.6" y="132.40" font-size="13">Type O-Mn</text>
<rect x="66.0" y="385.4" width="87.9" height="40.6" rx="3.2" fill="#eeeeee" stroke="#555" stroke-width="1.1"/>
<circle cx="77.4" cy="396.1" r="4.6" fill="#fff" stroke="#2a2aff" stroke-width="1.1"/>
<circle cx="77.4" cy="412.6" r="4.0" fill="#fff" stroke="#ff2020" stroke-width="1.0"/>
<text x="90.7" y="400.90" font-size="13">Type F-Cr</text>
<text x="90.7" y="416.80" font-size="13">Type F-Mn</text>
<text x="325.00" y="69.40" font-size="12.5"><tspan font-size="7.2" dy="-6.4">2</tspan><tspan font-style="italic" dy="6.4" dx="0.00">A</tspan><tspan font-size="8.2" dy="2.3">1<tspan font-style="italic">g</tspan></tspan></text>
<text x="325.00" y="105.70" font-size="12.5"><tspan font-size="7.2" dy="-6.4">4</tspan><tspan font-style="italic" dy="6.4" dx="0.00">T</tspan><tspan font-size="8.2" dy="2.3">1<tspan font-style="italic">g</tspan>,a</tspan></text>
<text x="325.00" y="151.90" font-size="12.5"><tspan font-size="7.2" dy="-6.4">4</tspan><tspan font-style="italic" dy="6.4" dx="0.00">T</tspan><tspan font-size="8.2" dy="2.3">2<tspan font-style="italic">g</tspan></tspan></text>
<text x="325.00" y="169.70" font-size="12.5"><tspan font-size="7.2" dy="-6.4">2</tspan><tspan font-style="italic" dy="6.4" dx="0.00">T</tspan><tspan font-size="8.2" dy="2.3">2<tspan font-style="italic">g</tspan></tspan></text>
<text x="325.00" y="208.30" font-size="12.5"><tspan font-size="7.2" dy="-6.4">2</tspan><tspan font-style="italic" dy="6.4" dx="0.00">T</tspan><tspan font-size="8.2" dy="2.3">1<tspan font-style="italic">g</tspan></tspan></text>
<text x="325.00" y="226.10" font-size="12.5"><tspan font-size="7.2" dy="-6.4">2</tspan><tspan font-style="italic" dy="6.4" dx="0.00">E</tspan><tspan font-size="8.2" dy="2.3"><tspan font-style="italic">g</tspan></tspan></text>
<text x="325.00" y="312.40" font-size="12.5"><tspan font-size="7.2" dy="-6.4">4</tspan><tspan font-style="italic" dy="6.4" dx="0.00">A</tspan><tspan font-size="8.2" dy="2.3">2<tspan font-style="italic">g</tspan></tspan></text>
<text x="264.60" y="50.90" font-size="12.5"><tspan font-size="7.2" dy="-6.4">4</tspan><tspan font-style="italic" dy="6.4" dx="-0.60">T</tspan><tspan font-size="8.2" dy="2.3">1<tspan font-style="italic">g</tspan>,b</tspan></text>
<text x="325.00" y="367.20" font-size="12.5"><tspan font-size="7.2" dy="-6.4">2</tspan><tspan font-style="italic" dy="6.4" dx="0.00">A</tspan><tspan font-size="8.2" dy="2.3">1<tspan font-style="italic">g</tspan></tspan></text>
<text x="325.00" y="403.50" font-size="12.5"><tspan font-size="7.2" dy="-6.4">4</tspan><tspan font-style="italic" dy="6.4" dx="0.00">T</tspan><tspan font-size="8.2" dy="2.3">1<tspan font-style="italic">g</tspan>,a</tspan></text>
<text x="325.00" y="449.70" font-size="12.5"><tspan font-size="7.2" dy="-6.4">4</tspan><tspan font-style="italic" dy="6.4" dx="0.00">T</tspan><tspan font-size="8.2" dy="2.3">2<tspan font-style="italic">g</tspan></tspan></text>
<text x="325.00" y="467.50" font-size="12.5"><tspan font-size="7.2" dy="-6.4">2</tspan><tspan font-style="italic" dy="6.4" dx="0.00">T</tspan><tspan font-size="8.2" dy="2.3">2<tspan font-style="italic">g</tspan></tspan></text>
<text x="325.00" y="506.10" font-size="12.5"><tspan font-size="7.2" dy="-6.4">2</tspan><tspan font-style="italic" dy="6.4" dx="0.00">T</tspan><tspan font-size="8.2" dy="2.3">1<tspan font-style="italic">g</tspan></tspan></text>
<text x="325.00" y="523.90" font-size="12.5"><tspan font-size="7.2" dy="-6.4">2</tspan><tspan font-style="italic" dy="6.4" dx="0.00">E</tspan><tspan font-size="8.2" dy="2.3"><tspan font-style="italic">g</tspan></tspan></text>
<text x="325.00" y="610.20" font-size="12.5"><tspan font-size="7.2" dy="-6.4">4</tspan><tspan font-style="italic" dy="6.4" dx="0.00">A</tspan><tspan font-size="8.2" dy="2.3">2<tspan font-style="italic">g</tspan></tspan></text>
<text x="264.60" y="348.70" font-size="12.5"><tspan font-size="7.2" dy="-6.4">4</tspan><tspan font-style="italic" dy="6.4" dx="-0.60">T</tspan><tspan font-size="8.2" dy="2.3">1<tspan font-style="italic">g</tspan>,b</tspan></text>
<text><tspan x="160.1" y="12.0" font-size="12.6" font-style="italic">E</tspan><tspan x="168.0" y="12.0" font-size="12.6">(</tspan><tspan x="171.0" y="5.9" font-size="8.0">2</tspan><tspan x="176.0" y="12.0" font-size="12.6" font-style="italic">E</tspan><tspan x="183.2" y="14.3" font-size="8.2" font-style="italic">g</tspan><tspan x="187.0" y="12.0" font-size="12.6">)</tspan><tspan x="191.7" y="14.4" font-size="8.3">ZPL</tspan><tspan x="208.8" y="13.4" font-size="12.6">=</tspan><tspan x="217.2" y="12.0" font-size="12.6" font-style="italic">E</tspan><tspan x="225.6" y="12.0" font-size="12.6">(</tspan><tspan x="229.4" y="5.9" font-size="8.0">4</tspan><tspan x="233.0" y="12.0" font-size="12.6" font-style="italic">T</tspan><tspan x="239.4" y="14.3" font-size="8.2">2</tspan><tspan x="243.5" y="14.3" font-size="8.2" font-style="italic">g</tspan><tspan x="247.3" y="12.0" font-size="12.6">)</tspan><tspan x="251.9" y="14.4" font-size="8.4">ZPL</tspan></text>
<g stroke="#000" stroke-width="1.5" fill="none"><line x1="209.9" y1="18" x2="209.9" y2="30.6"/><line x1="213.7" y1="18" x2="213.7" y2="30.6"/><polyline points="206.8,27.6 211.8,32.8 216.8,27.6"/></g>
</svg></body></html>
